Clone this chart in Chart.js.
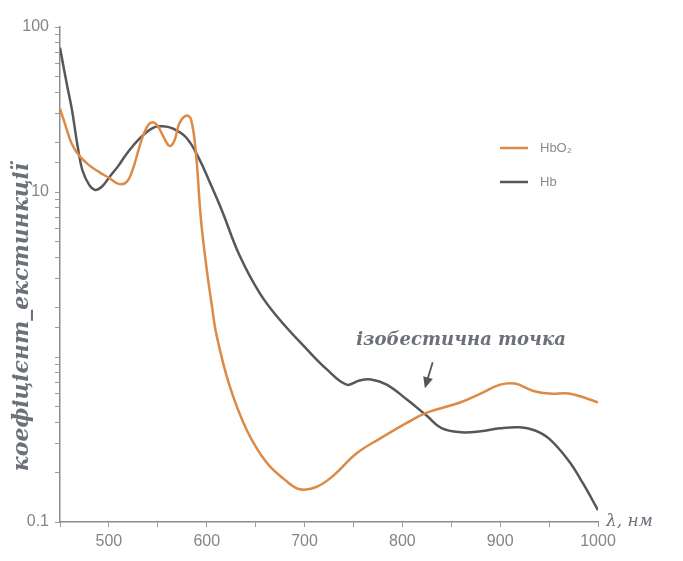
<!DOCTYPE html>
<html>
<head>
<meta charset="utf-8">
<script src="https://cdn.jsdelivr.net/npm/chart.js@4.4.1/dist/chart.umd.min.js"></script>
<style>
  html, body { margin: 0; padding: 0; background: #fff; }
</style>
</head>
<body>
<canvas id="chart" width="683" height="561"></canvas>
<script>
// wavelengths (nm) and extinction values
const hbWave = [450, 457, 462, 468, 473, 480, 486, 493, 500, 510, 518, 531, 545, 555, 565, 579, 592, 603, 616, 633, 654, 674, 702, 722, 743, 756, 768, 784, 805, 825, 840, 860, 880, 900, 920, 935, 950, 970, 985, 1000];
const hbValues = [75, 45, 32, 19, 13.5, 11, 10.3, 10.8, 12.2, 14.5, 17, 21, 24.5, 25, 24.3, 21.4, 16, 11.5, 7.6, 4.2, 2.45, 1.7, 1.12, 0.85, 0.68, 0.72, 0.73, 0.68, 0.55, 0.44, 0.37, 0.35, 0.355, 0.37, 0.375, 0.36, 0.32, 0.235, 0.17, 0.118];

const hbo2Wave = [450, 455, 462, 470, 480, 490, 500, 510, 518, 524, 531, 537, 543, 549, 556, 562, 567, 572, 579, 584, 589, 594, 600, 605, 610, 623, 641, 661, 680, 695, 712, 729, 753, 777, 805, 825, 859, 880, 900, 915, 935, 950, 970, 985, 1000];
const hbo2Values = [32, 26, 19.6, 16.5, 14.5, 13.2, 12.2, 11.2, 11.5, 13.5, 18.6, 23.5, 26.3, 25.5, 21.5, 19, 20.5, 26, 29, 27.5, 17, 6.9, 3.4, 2.1, 1.36, 0.68, 0.36, 0.23, 0.18, 0.158, 0.163, 0.19, 0.26, 0.32, 0.4, 0.46, 0.53, 0.6, 0.68, 0.69, 0.62, 0.6, 0.6, 0.57, 0.53];

const seriesNames = ['HbO₂', 'Hb'];
const seriesColors = ['#dc8a45', '#55575b'];
const yTickLabels = ['0.1', '10', '100'];
const xTickLabels = [500, 600, 700, 800, 900, 1000];

const textGray = '#6b7079';
const tickFont = { family: '"Liberation Sans Narrow", "Liberation Sans", Arial, sans-serif', size: 16 };

// legend, axis titles and the isosbestic point note
const decorations = {
  id: 'decorations',
  afterDraw(chart) {
    const { ctx, chartArea, scales: { x, y } } = chart;
    ctx.save();

    // legend
    ctx.lineWidth = 2.5;
    ctx.font = '13px "Liberation Sans", Arial, sans-serif';
    ctx.textBaseline = 'middle';
    ctx.textAlign = 'left';
    seriesNames.forEach((name, i) => {
      const ly = chartArea.top + 121 + i * 34;
      const lx = chartArea.left + 440;
      ctx.strokeStyle = seriesColors[i];
      ctx.beginPath();
      ctx.moveTo(lx, ly);
      ctx.lineTo(lx + 28, ly);
      ctx.stroke();
      ctx.fillStyle = '#8a8a8a';
      ctx.fillText(name, lx + 40, ly);
    });

    // y title
    ctx.fillStyle = textGray;
    ctx.font = 'italic bold 22px "DejaVu Serif", serif';
    ctx.textAlign = 'center';
    ctx.save();
    ctx.translate(22, chartArea.top + 290);
    ctx.rotate(-Math.PI / 2);
    ctx.fillText('коефіцієнт_екстинкції', 0, 0);
    ctx.restore();

    // x title
    ctx.font = 'italic 17px "DejaVu Serif", serif';
    ctx.textAlign = 'left';
    ctx.fillText('λ, нм', chartArea.right + 8, chartArea.bottom);

    // isosbestic note
    ctx.font = 'italic bold 18px "DejaVu Serif", serif';
    ctx.textAlign = 'center';
    ctx.fillText('ізобестична точка', x.getPixelForValue(860), y.getPixelForValue(1.27));

    const ax0 = x.getPixelForValue(831), ay0 = y.getPixelForValue(0.93);
    const ax1 = x.getPixelForValue(823), ay1 = y.getPixelForValue(0.647);
    const ang = Math.atan2(ay1 - ay0, ax1 - ax0);
    ctx.strokeStyle = '#555';
    ctx.fillStyle = '#555';
    ctx.lineWidth = 1.8;
    ctx.beginPath();
    ctx.moveTo(ax0, ay0);
    ctx.lineTo(ax1 - 6 * Math.cos(ang), ay1 - 6 * Math.sin(ang));
    ctx.stroke();
    ctx.beginPath();
    ctx.moveTo(ax1, ay1);
    ctx.lineTo(ax1 - 11 * Math.cos(ang) + 5 * Math.sin(ang), ay1 - 11 * Math.sin(ang) - 5 * Math.cos(ang));
    ctx.lineTo(ax1 - 11 * Math.cos(ang) - 5 * Math.sin(ang), ay1 - 11 * Math.sin(ang) + 5 * Math.cos(ang));
    ctx.closePath();
    ctx.fill();

    ctx.restore();
  }
};

new Chart(document.getElementById('chart'), {
  type: 'line',
  data: {
    datasets: [
      {
        label: seriesNames[0],
        data: hbo2Wave.map((w, i) => ({ x: w, y: hbo2Values[i] })),
        borderColor: seriesColors[0],
        borderWidth: 2.5,
        pointRadius: 0,
        tension: 0.4
      },
      {
        label: seriesNames[1],
        data: hbWave.map((w, i) => ({ x: w, y: hbValues[i] })),
        borderColor: seriesColors[1],
        borderWidth: 2.5,
        pointRadius: 0,
        tension: 0.4
      }
    ]
  },
  options: {
    responsive: false,
    animation: false,
    layout: { padding: { top: 27, right: 85, left: 0, bottom: 0 } },
    plugins: {
      legend: { display: false },
      tooltip: { enabled: false }
    },
    scales: {
      x: {
        type: 'linear',
        min: 450,
        max: 1000,
        afterFit: (scale) => { scale.height = 39; },
        border: { color: '#8c8c8c', width: 1.5 },
        grid: { drawOnChartArea: false, tickLength: 5, color: '#9a9a9a' },
        ticks: {
          stepSize: 50,
          autoSkip: false,
          maxRotation: 0,
          padding: 5,
          color: '#858585',
          font: tickFont,
          callback: (v) => xTickLabels.includes(v) ? String(v) : ''
        }
      },
      y: {
        type: 'logarithmic',
        min: 0.1,
        max: 100,
        afterFit: (scale) => { scale.width = 60; },
        border: { color: '#8c8c8c', width: 1.5 },
        grid: { drawOnChartArea: false, tickLength: 5, color: '#9a9a9a' },
        ticks: {
          autoSkip: false,
          padding: 6,
          color: '#858585',
          font: tickFont,
          callback: (v) => {
            const hit = yTickLabels.find(l => Math.abs(Math.log10(v) - Math.log10(Number(l))) < 1e-6);
            return hit ? hit : '';
          }
        }
      }
    }
  },
  plugins: [decorations]
});
</script>
</body>
</html>
